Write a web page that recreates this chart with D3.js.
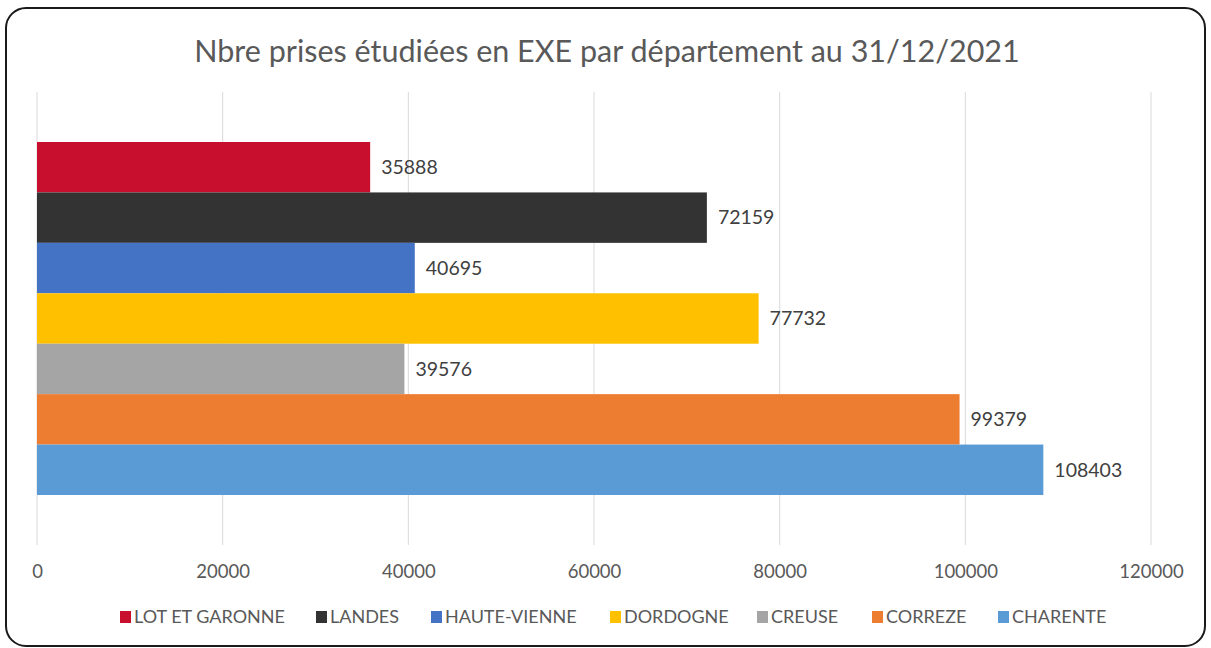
<!DOCTYPE html>
<html>
<head>
<meta charset="utf-8">
<script src="https://cdn.jsdelivr.net/npm/d3@7"></script>
<style>
  body { margin: 0; background: #fff; }
  text { font-family: Lato, "Open Sans", sans-serif; }
</style>
</head>
<body>
<div id="chart"></div>
<script>
// data
const departements = ["LOT ET GARONNE", "LANDES", "HAUTE-VIENNE", "DORDOGNE", "CREUSE", "CORREZE", "CHARENTE"];
const prises = [35888, 72159, 40695, 77732, 39576, 99379, 108403];
const couleurs = ["#c8102e", "#333333", "#4472c4", "#ffc000", "#a5a5a5", "#ed7d31", "#5b9bd5"];
const ticks = [0, 20000, 40000, 60000, 80000, 100000, 120000];
const titre = "Nbre prises étudiées en EXE par département au 31/12/2021";

const w = 1211, h = 648;
const svg = d3.select("#chart").append("svg")
    .attr("width", w)
    .attr("height", h);

// frame
svg.append("rect")
    .attr("x", 6).attr("y", 8)
    .attr("width", w - 12).attr("height", h - 10)
    .attr("rx", 20).attr("ry", 20)
    .attr("fill", "#fff")
    .attr("stroke", "#1a1a1a")
    .attr("stroke-width", 2);

svg.append("text")
    .attr("x", 607).attr("y", 62)
    .attr("text-anchor", "middle")
    .attr("font-size", "30.5px")
    .attr("fill", "#595959")
    .text(titre);

const xScale = d3.scaleLinear()
    .domain([0, 120000])
    .range([37, 1151]);
const yScale = d3.scaleBand()
    .domain(departements)
    .range([142, 495]);

const gridTop = 92, gridBottom = 545;

// gridlines
svg.append("g")
    .selectAll("line")
    .data(ticks)
    .enter()
    .append("line")
    .attr("x1", d => xScale(d)).attr("x2", d => xScale(d))
    .attr("y1", gridTop).attr("y2", gridBottom)
    .attr("stroke", "#d9d9d9")
    .attr("stroke-width", 1);

const xAxis = d3.axisBottom(xScale)
    .tickValues(ticks)
    .tickSize(0)
    .tickPadding(0)
    .tickFormat(d => d);
const axisG = svg.append("g")
    .attr("transform", "translate(0," + 578 + ")")
    .call(xAxis);
axisG.select(".domain").remove();
axisG.selectAll("text")
    .attr("font-family", "Lato, 'Open Sans', sans-serif")
    .attr("font-size", "18.5px")
    .attr("fill", "#595959")
    .attr("dy", 0);

svg.selectAll("rect.bar")
    .data(prises)
    .enter()
    .append("rect")
    .attr("class", "bar")
    .attr("x", xScale(0))
    .attr("y", (d, i) => yScale(departements[i]))
    .attr("width", d => xScale(d) - xScale(0))
    .attr("height", yScale.bandwidth())
    .attr("fill", (d, i) => couleurs[i]);

svg.selectAll("text.val")
    .data(prises)
    .enter()
    .append("text")
    .attr("class", "val")
    .attr("x", d => xScale(d) + 11)
    .attr("y", (d, i) => yScale(departements[i]) + yScale.bandwidth() / 2)
    .attr("dy", "0.35em")
    .attr("font-size", "19.5px")
    .attr("fill", "#404040")
    .text(d => d);

// legend
const legendX = [120, 316, 431, 610, 757, 872, 998];
const leg = svg.selectAll("g.leg")
    .data(departements)
    .enter()
    .append("g")
    .attr("class", "leg")
    .attr("transform", (d, i) => "translate(" + legendX[i] + ",617)");
leg.append("rect")
    .attr("x", 0).attr("y", -6)
    .attr("width", 11).attr("height", 12)
    .attr("fill", (d, i) => couleurs[i]);
leg.append("text")
    .attr("x", 14).attr("y", 0)
    .attr("dy", "0.35em")
    .attr("font-size", "18px")
    .attr("fill", "#595959")
    .text(d => d);
</script>
</body>
</html>
